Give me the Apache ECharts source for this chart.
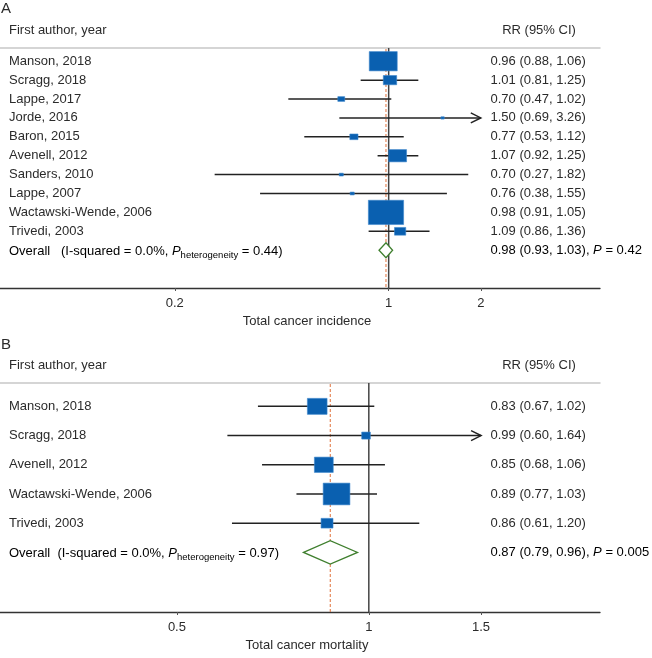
<!DOCTYPE html>
<html>
<head>
<meta charset="utf-8">
<script src="https://cdn.jsdelivr.net/npm/echarts@6/dist/echarts.min.js"></script>
<style>
html,body{margin:0;padding:0;background:#fff;}
#chart{width:652px;height:658px;}
</style>
</head>
<body>
<div id="chart"></div>
<script>
// ---------- Panel A: total cancer incidence ----------
const studiesA = ['Manson, 2018','Scragg, 2018','Lappe, 2017','Jorde, 2016','Baron, 2015','Avenell, 2012','Sanders, 2010','Lappe, 2007','Wactawski-Wende, 2006','Trivedi, 2003'];
const rrA = [0.96, 1.01, 0.70, 1.50, 0.77, 1.07, 0.70, 0.76, 0.98, 1.09];
const loA = [0.88, 0.81, 0.47, 0.69, 0.53, 0.92, 0.27, 0.38, 0.91, 0.86];
const hiA = [1.06, 1.25, 1.02, 3.26, 1.12, 1.25, 1.82, 1.55, 1.05, 1.36];
const weightA = [27.9, 6.4, 1.7, 0.4, 2.4, 11.3, 0.6, 0.6, 44.3, 4.5];
const overallA = [0.98, 0.93, 1.03];
const i2A = '0.0%';
const pHetA = '0.44';
const pA = '0.42';
const ticksA = [0.2, 1, 2];
const titleA = 'Total cancer incidence';

// ---------- Panel B: total cancer mortality ----------
const studiesB = ['Manson, 2018','Scragg, 2018','Avenell, 2012','Wactawski-Wende, 2006','Trivedi, 2003'];
const rrB = [0.83, 0.99, 0.85, 0.89, 0.86];
const loB = [0.67, 0.60, 0.68, 0.77, 0.61];
const hiB = [1.02, 1.64, 1.06, 1.03, 1.20];
const weightB = [22.8, 4.4, 20.9, 42.0, 8.4];
const overallB = [0.87, 0.79, 0.96];
const i2B = '0.0%';
const pHetB = '0.97';
const pB = '0.005';
const ticksB = [0.5, 1, 1.5];
const titleB = 'Total cancer mortality';

const FONT = 'Liberation Sans, Arial, Helvetica, sans-serif';
const TXT = '#2b2b2b';
const BOX = '#0a60b0';
const LINE = '#222222';
const RED = '#e0703a';
const GREEN = '#3f7f2e';

function fmt(v){ return v.toFixed(2); }

function studyData(names, rr, lo, hi, w){
  return names.map((n, i) => ({ name: n, value: [rr[i], i + 1, lo[i], hi[i], w[i]] }));
}

function studyRender(opts){
  return function(params, api){
    const idx = params.dataIndex;
    const rr = api.value(0), row = api.value(1), lo = api.value(2), hi = api.value(3), w = api.value(4);
    const clipped = hi > opts.clip;
    const pLo = api.coord([lo, row]);
    const pHi = api.coord([clipped ? opts.clip : hi, row]);
    const pE = api.coord([rr, row]);
    const h = opts.k * Math.sqrt(w);
    const bw = h * opts.ratio;
    const ch = [];
    ch.push({type:'line', shape:{x1:pLo[0], y1:pLo[1], x2:pHi[0], y2:pHi[1]}, style:{stroke:LINE, lineWidth:1.5}});
    if (clipped) {
      ch.push({type:'polyline', shape:{points:[[pHi[0]-10, pHi[1]-5],[pHi[0], pHi[1]],[pHi[0]-10, pHi[1]+5]]}, style:{stroke:LINE, lineWidth:1.5, fill:null}});
    }
    ch.push({type:'rect', shape:{x:pE[0]-bw/2, y:pE[1]-h/2, width:bw, height:h}, style:{fill:BOX, stroke:'#3d86cc', lineWidth:0.6}});
    ch.push({type:'text', style:{text: opts.names[idx], x: 9, y: pE[1], align:'left', verticalAlign:'middle', fontSize:13, fontFamily:FONT, fill:TXT}});
    ch.push({type:'text', style:{text: fmt(rr)+' ('+fmt(lo)+', '+fmt(hi)+')', x: 490.5, y: pE[1], align:'left', verticalAlign:'middle', fontSize:13, fontFamily:FONT, fill:TXT}});
    return {type:'group', children: ch};
  };
}

const rich = {
  n: {fontSize:13, fontFamily:FONT, color:TXT},
  i: {fontSize:13, fontFamily:FONT, color:TXT, fontStyle:'italic'},
  s: {fontSize:9.5, fontFamily:FONT, color:TXT, padding:[8,0,0,0]}
};

function overallRender(opts){
  return function(params, api){
    const rr = api.value(0), row = api.value(1), lo = api.value(2), hi = api.value(3);
    const pL = api.coord([lo, row]), pH = api.coord([hi, row]), pE = api.coord([rr, row]);
    const ch = [];
    ch.push({type:'polygon', shape:{points:[[pL[0],pL[1]],[pE[0],pE[1]-opts.dh],[pH[0],pH[1]],[pE[0],pE[1]+opts.dh]]}, style:{fill:'#ffffff', stroke:GREEN, lineWidth:1.3}});
    ch.push({type:'text', style:{text: '{n|Overall'+opts.gap+'(I-squared = '+opts.i2+', }{i|P}{s|heterogeneity}{n| = '+opts.pHet+')}', rich: rich, x: 9, y: pE[1]+1, align:'left', verticalAlign:'middle'}});
    ch.push({type:'text', style:{text: '{n|'+fmt(rr)+' ('+fmt(lo)+', '+fmt(hi)+'), }{i|P}{n| = '+opts.p+'}', rich: rich, x: 490.5, y: pE[1], align:'left', verticalAlign:'middle'}});
    return {type:'group', children: ch};
  };
}

function refRender(params, api){
  const cs = params.coordSys;
  const row = api.value(1);
  const x1 = api.coord([1, row])[0];
  const xo = api.coord([api.value(0), row])[0];
  return {type:'group', children:[
    {type:'line', shape:{x1:x1, y1:cs.y, x2:x1, y2:cs.y+cs.height}, style:{stroke:'#444', lineWidth:1.5}},
    {type:'line', shape:{x1:xo, y1:cs.y+1, x2:xo, y2:cs.y+cs.height}, style:{stroke:RED, lineWidth:1, lineDash:[3,2]}}
  ]};
}

function bottomAxis(grid, min, max, ticks, title){
  return {
    type:'log', logBase:10, gridIndex:grid, position:'bottom', min:min, max:max,
    axisLine:{show:true, lineStyle:{color:'#333', width:1.3}},
    axisTick:{show:true, customValues:ticks, length:3, lineStyle:{color:'#555'}},
    axisLabel:{customValues:ticks, fontSize:13, fontFamily:FONT, color:TXT, margin:9,
      formatter: v => String(+(+v).toPrecision(3))},
    splitLine:{show:false}, minorTick:{show:false},
    name:title, nameLocation:'middle', nameGap:27,
    nameTextStyle:{fontSize:13, fontFamily:FONT, color:TXT, padding:[0,0,0,14]}
  };
}
function topAxis(grid, min, max){
  return {
    type:'log', logBase:10, gridIndex:grid, position:'top', min:min, max:max,
    axisLine:{show:true, lineStyle:{color:'#c8c8c8', width:1.5}},
    axisTick:{show:false}, axisLabel:{show:false}, splitLine:{show:false}
  };
}

const chart = echarts.init(document.getElementById('chart'), null, {renderer:'canvas'});
chart.setOption({
  animation:false,
  backgroundColor:'#ffffff',
  grid:[
    {left:0, top:48, width:600, height:240, containLabel:false},
    {left:0, top:383, width:600, height:229, containLabel:false}
  ],
  xAxis:[
    bottomAxis(0, 0.0537, 4.904, ticksA, titleA),
    topAxis(0, 0.0537, 4.904),
    bottomAxis(1, 0.2639, 2.305, ticksB, titleB),
    topAxis(1, 0.2639, 2.305)
  ],
  yAxis:[
    {type:'value', gridIndex:0, inverse:true, min:0.3, max:13, show:false},
    {type:'value', gridIndex:1, inverse:true, min:0.2, max:8.04, show:false}
  ],
  graphic:[
    {type:'text', left:1, top:1, style:{text:'A', fontSize:15, fontFamily:FONT, fill:TXT}},
    {type:'text', x:9, y:30, style:{text:'First author, year', fontSize:13, fontFamily:FONT, fill:TXT, verticalAlign:'middle'}},
    {type:'text', x:539, y:30, style:{text:'RR (95% CI)', fontSize:13, fontFamily:FONT, fill:TXT, align:'center', verticalAlign:'middle'}},
    {type:'text', left:1, top:337, style:{text:'B', fontSize:15, fontFamily:FONT, fill:TXT}},
    {type:'text', x:9, y:365, style:{text:'First author, year', fontSize:13, fontFamily:FONT, fill:TXT, verticalAlign:'middle'}},
    {type:'text', x:539, y:365, style:{text:'RR (95% CI)', fontSize:13, fontFamily:FONT, fill:TXT, align:'center', verticalAlign:'middle'}}
  ],
  series:[
    {type:'custom', xAxisIndex:0, yAxisIndex:0, renderItem:refRender, data:[[overallA[0], 11]], silent:true, z:1},
    {type:'custom', xAxisIndex:0, yAxisIndex:0, renderItem:studyRender({clip:2, k:3.65, ratio:1.45, names:studiesA}),
      encode:{x:[0,2,3], y:1}, data:studyData(studiesA, rrA, loA, hiA, weightA), z:2},
    {type:'custom', xAxisIndex:0, yAxisIndex:0, renderItem:overallRender({dh:7.5, gap:'   ', i2:i2A, pHet:pHetA, p:pA}),
      encode:{x:[0,2,3], y:1}, data:[[overallA[0], 11, overallA[1], overallA[2]]], z:3},

    {type:'custom', xAxisIndex:2, yAxisIndex:1, renderItem:refRender, data:[[overallB[0], 6]], silent:true, z:1},
    {type:'custom', xAxisIndex:2, yAxisIndex:1, renderItem:studyRender({clip:1.5, k:3.35, ratio:1.23, names:studiesB}),
      encode:{x:[0,2,3], y:1}, data:studyData(studiesB, rrB, loB, hiB, weightB), z:2},
    {type:'custom', xAxisIndex:2, yAxisIndex:1, renderItem:overallRender({dh:11.7, gap:'  ', i2:i2B, pHet:pHetB, p:pB}),
      encode:{x:[0,2,3], y:1}, data:[[overallB[0], 6, overallB[1], overallB[2]]], z:3}
  ]
});
</script>
</body>
</html>
